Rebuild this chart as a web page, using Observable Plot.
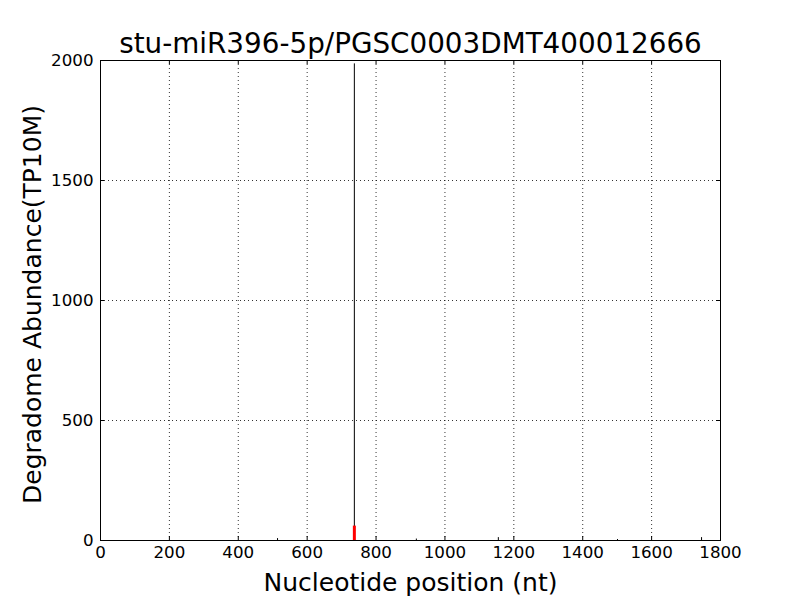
<!DOCTYPE html>
<html><head><meta charset="utf-8">
<script src="https://cdn.jsdelivr.net/npm/d3@7"></script>
<script src="https://cdn.jsdelivr.net/npm/@observablehq/plot@0.6"></script>
<style>body{margin:0;background:#fff}</style>
</head><body><div id="chart"></div>
<script>
const title = "stu-miR396-5p/PGSC0003DMT400012666";
const positions = [514, 737, 917, 1155, 1501, 1745];
const abundance = [8, 1986, 6, 12, 4, 12];
const targetPosition = [737];
const targetAbundance = [60];
const xTicks = [0, 200, 400, 600, 800, 1000, 1200, 1400, 1600, 1800];
const yTicks = [0, 500, 1000, 1500, 2000];

const reads = positions.map((p, i) => ({p, a: abundance[i]}));
const target = targetPosition.map((p, i) => ({p, a: targetAbundance[i]}));
const font = "DejaVu Sans, sans-serif";

const chart = Plot.plot({
  width: 800, height: 600,
  marginLeft: 100, marginRight: 80, marginTop: 60, marginBottom: 60,
  style: {fontFamily: font, background: "#fff", color: "#000"},
  x: {domain: [0, 1800]},
  y: {domain: [0, 2000]},
  marks: [
    Plot.ruleX(xTicks.slice(1, -1), {x: d => d, stroke: "#000", strokeWidth: 0.8, strokeDasharray: "1,3"}),
    Plot.ruleY(yTicks.slice(1, -1), {y: d => d, stroke: "#000", strokeWidth: 0.8, strokeDasharray: "1,3"}),
    Plot.ruleX(xTicks, {x: d => d, stroke: "#000", insetTop: 476}),
    Plot.ruleX(xTicks, {x: d => d, stroke: "#000", insetBottom: 476}),
    Plot.ruleY(yTicks, {y: d => d, stroke: "#000", insetRight: 616}),
    Plot.ruleY(yTicks, {y: d => d, stroke: "#000", insetLeft: 616}),
    Plot.ruleX(reads, {x: "p", y1: 0, y2: "a", stroke: "#000", strokeWidth: 1}),
    Plot.ruleX(target, {x: "p", y1: 0, y2: "a", stroke: "red", strokeWidth: 3}),
    Plot.frame({stroke: "#000", strokeWidth: 1}),
    Plot.axisX({ticks: xTicks, tickSize: 0, tickPadding: 6, fontSize: 16.7, tickFormat: d3.format("d"), label: null, fill: "#000"}),
    Plot.axisY({ticks: yTicks, tickSize: 0, tickPadding: 7, fontSize: 16.7, tickFormat: d3.format("d"), label: null, fill: "#000"}),
    Plot.text([title], {frameAnchor: "top", dy: -8, text: d => d, fontSize: 27.8, lineAnchor: "bottom", fill: "#000"}),
    Plot.text(["Nucleotide position (nt)"], {frameAnchor: "bottom", dy: 50, text: d => d, fontSize: 25, lineAnchor: "bottom", fill: "#000"}),
    Plot.text(["Degradome Abundance(TP10M)"], {frameAnchor: "left", textAnchor: "middle", dx: -68, dy: 4, rotate: -90, text: d => d, fontSize: 25, fill: "#000"})
  ]
});
document.getElementById("chart").appendChild(chart);
</script></body></html>
